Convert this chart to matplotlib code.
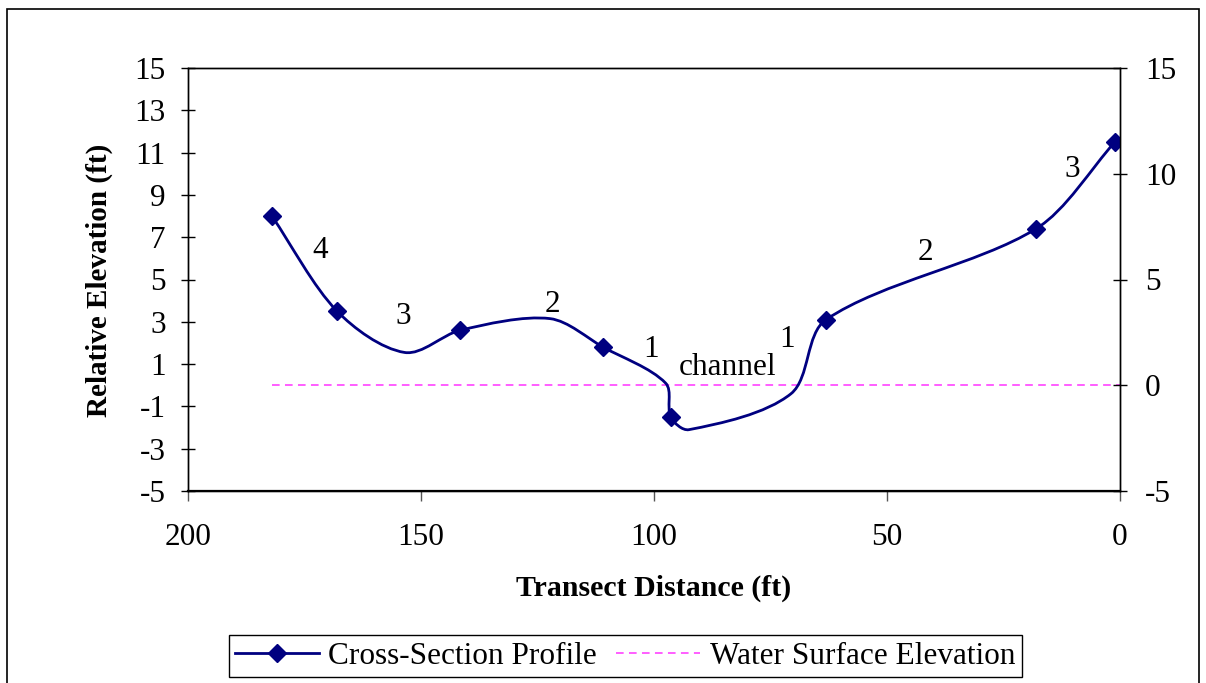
import numpy as np
import matplotlib
matplotlib.use("Agg")
import matplotlib.pyplot as plt
from matplotlib.path import Path
from matplotlib.patches import PathPatch, Rectangle
from matplotlib.lines import Line2D

# Surveyed stations shown with markers
station_ft = [182.0, 168.0, 141.6, 110.9, 96.4, 63.1, 18.0, 1.1]
station_elev = [8.0, 3.5, 2.6, 1.8, -1.5, 3.1, 7.4, 11.5]

# Full cross-section profile, including unmarked break points
profile_ft = [182.0, 168.0, 153.5, 141.6, 122.3, 110.9, 97.5, 96.4, 92.5, 70.6, 63.1, 18.0, 1.1]
profile_elev = [8.0, 3.5, 1.55, 2.6, 3.15, 1.8, 0.1, -1.5, -2.1, -0.4, 3.1, 7.4, 11.5]

# Water surface
water_ft = [182.0, 0.0]
water_elev = [0.0, 0.0]

# Zone labels along the profile
zone_text = ["4", "3", "2", "1", "channel", "1", "2", "3"]
zone_ft = [171.7, 153.9, 121.7, 100.6, 84.3, 71.5, 41.8, 10.3]
zone_elev = [6.35, 3.27, 3.84, 1.67, 0.86, 2.14, 6.3, 10.22]

left_ticks = list(range(-5, 16, 2))
right_ticks = list(range(-5, 16, 5))
x_ticks = [200, 150, 100, 50, 0]

SERIF = "Liberation Serif"
NAVY = "#000080"
PINK = "#FF33FF"
FS = 22.5

W, H = 1206, 683
fig = plt.figure(figsize=(W / 100, H / 100), dpi=100)
fig.patch.set_facecolor("white")

# outer chart frame
fig.patches.append(Rectangle((7 / W, -0.02), (1199 - 7) / W, 1 - 9 / H + 0.02,
                             transform=fig.transFigure, fill=False,
                             edgecolor="black", lw=1.2))

ax = fig.add_axes([188 / W, 1 - 491 / H, (1120 - 188) / W, (491 - 68) / H])
ax.set_xlim(200, 0)
ax.set_ylim(-5, 15)

for s in ["left", "right", "top"]:
    ax.spines[s].set_linewidth(1.0)
ax.spines["bottom"].set_linewidth(1.6)

ax.set_xticks(x_ticks)
ax.set_xticklabels([str(v) for v in x_ticks])
ax.set_yticks(left_ticks)
ax.set_yticklabels([str(v) for v in left_ticks])
ax.tick_params(axis="y", direction="inout", length=10, width=1, pad=11,
               labelsize=FS, labelfontfamily=SERIF)
ax.tick_params(axis="x", direction="out", length=7, width=1, pad=16,
               labelsize=FS, labelfontfamily=SERIF, color="#555555")

ax2 = ax.twinx()
ax2.set_ylim(-5, 15)
ax2.set_yticks(right_ticks)
ax2.set_yticklabels([str(v) for v in right_ticks])
ax2.tick_params(axis="y", direction="inout", length=10, width=1, pad=13,
                labelsize=FS, labelfontfamily=SERIF)
for s in ax2.spines.values():
    s.set_linewidth(1.0)


def smooth_path(axis, xs, ys, k=0.3):
    """Smoothed cubic Bezier path through the vertices (computed in pixel space)."""
    pts = axis.transData.transform(np.column_stack([xs, ys]))
    n = len(pts)
    tang = []
    for i in range(n):
        d = pts[min(i + 1, n - 1)] - pts[max(i - 1, 0)]
        tang.append(d / np.hypot(*d))
    verts = [pts[0]]
    codes = [Path.MOVETO]
    for i in range(n - 1):
        L = np.hypot(*(pts[i + 1] - pts[i]))
        verts += [pts[i] + tang[i] * L * k, pts[i + 1] - tang[i + 1] * L * k, pts[i + 1]]
        codes += [Path.CURVE4] * 3
    data = axis.transData.inverted().transform(np.array(verts))
    return Path(data, codes)


ax.plot(water_ft, water_elev, color=PINK, lw=1.1, ls=(0, (5, 3.5)), zorder=2)
ax.add_patch(PathPatch(smooth_path(ax, profile_ft, profile_elev), fill=False,
                       edgecolor=NAVY, lw=2.0, zorder=3, capstyle="round"))
ax.plot(station_ft, station_elev, ls="none", marker="D", ms=9.5, color=NAVY, zorder=4)

for t, xv, yv in zip(zone_text, zone_ft, zone_elev):
    ax.text(xv, yv, t, ha="center", va="center", fontsize=FS, family=SERIF, zorder=5)

fig.text(654 / W, 1 - 588 / H, "Transect Distance (ft)", ha="center", va="center",
         fontsize=21.5, fontweight="bold", family=SERIF)
fig.text(99 / W, 1 - 280 / H, "Relative Elevation (ft)", ha="center", va="center",
         rotation=90, fontsize=21, fontweight="bold", family=SERIF)

handles = [Line2D([], [], color=NAVY, lw=2.0, marker="D", ms=9.5),
           Line2D([], [], color=PINK, lw=1.1, ls=(0, (5, 3.5)))]
leg = fig.legend(handles, ["Cross-Section Profile", "Water Surface Elevation"],
                 loc="center", bbox_to_anchor=(625 / W, 1 - 656 / H), ncol=2,
                 frameon=True, fancybox=False, edgecolor="black", framealpha=1,
                 prop={"family": SERIF, "size": FS}, handlelength=2.7,
                 handletextpad=0.3, columnspacing=0.6, borderpad=0.2,
                 borderaxespad=0)
leg.get_frame().set_linewidth(1.0)

fig.savefig("out.png", dpi=100, facecolor="white")
